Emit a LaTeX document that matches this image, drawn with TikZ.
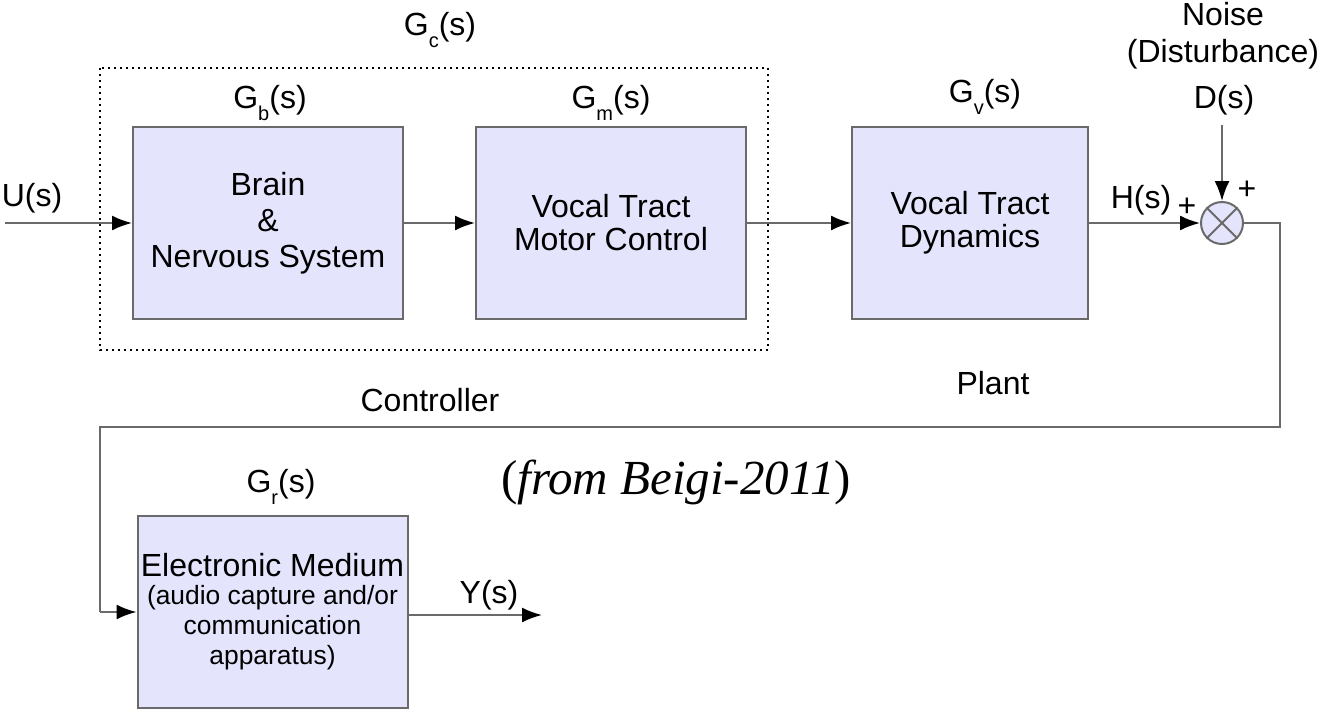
\documentclass[tikz,border=0pt]{standalone}
\usepackage{fontspec}
\setmainfont{Liberation Sans}
\newfontfamily\citefont{Liberation Serif}
\usetikzlibrary{arrows.meta}
\definecolor{boxfill}{HTML}{E4E4FC}
\definecolor{edge}{HTML}{6A6A6A}
% transfer function label G_x(s) with a low-set subscript
\newcommand{\tf}[1]{G\raisebox{-6pt}{\fontsize{10}{11}\selectfont #1}(s)}
\begin{document}
\begin{tikzpicture}[x=0.5pt,y=-0.5pt,
  block/.style={draw=edge,fill=boxfill,line width=1pt,minimum width=135pt,
    minimum height=96pt,align=center,font=\fontsize{16}{16.5}\selectfont,inner sep=0pt},
  lbl/.style={font=\fontsize{16}{18.5}\selectfont,inner sep=0pt,align=center},
  tfl/.style={lbl,anchor=base},
  wire/.style={draw=edge,line width=1pt},
  flow/.style={wire,-{Latex[length=10pt,width=7.5pt,color=black]}},
  junction/.style={circle,draw=edge,fill=boxfill,line width=1pt,minimum size=21pt,inner sep=0pt}]
\useasboundingbox (0,0) rectangle (1322,712);
% controller grouping
\draw[black,line width=1pt,dotted] (100,68) rectangle (768,350);
\node[tfl] (gc) at (440,35) {\tf{c}};
\node[lbl] (ctl) at (430,400) {Controller};
% forward path blocks
\node[block,font=\fontsize{16}{18}\selectfont] (brain) at (268,223) {Brain\\\&\\Nervous System};
\node[block] (motor) at (611,223) {Vocal Tract\\Motor Control};
\node[block,minimum width=118pt] (plant) at (970,223) {Vocal Tract\\Dynamics};
\node[block,font=\fontsize{16}{15}\selectfont] (medium) at (272.5,611.5)
  {Electronic Medium\\[-1pt]{\fontsize{13.2}{15}\selectfont(audio capture and/or}\\
   {\fontsize{13.2}{15}\selectfont communication}\\{\fontsize{13.2}{15}\selectfont apparatus)}};
\node[tfl] (gb) at (270,108) {\tf{b}};
\node[tfl] (gm) at (611,108) {\tf{m}};
\node[tfl] (gv) at (985,102) {\tf{v}};
\node[tfl] (gr) at (281,492) {\tf{r}};
\node[lbl] (plt) at (993,383) {Plant};
% summing junction and disturbance
\node[junction] (sum) at (1222,223) {};
\draw[edge,line width=1pt] (sum.45) -- (sum.225) (sum.135) -- (sum.315);
\node[lbl] (noise) at (1223,36) {Noise\\(Disturbance)};
\node[lbl] (ds) at (1224,100) {D(s)};
\coordinate (dtop) at (1222,125);
\node[lbl] (pl1) at (1187,207) {+};
\node[lbl] (pl2) at (1247,190) {+};
% signals
\coordinate (uin) at (5,223);
\node[lbl] (us) at (32,198) {U(s)};
\node[lbl] (hs) at (1141,200) {H(s)};
\coordinate (c1) at (1280,223);
\coordinate (c2) at (1280,427);
\coordinate (c3) at (100,427);
\coordinate (c4) at (100,612);
\coordinate (yout) at (542,615);
\node[lbl] (ys) at (489,595) {Y(s)};
\draw[flow] (uin) -- (brain.west);
\draw[flow] (brain) -- (motor);
\draw[flow] (motor) -- (plant);
\draw[flow] (plant.east) -- (sum.west);
\draw[flow] (dtop) -- (sum.north);
\draw[wire] (sum.east) -- (c1) -- (c2) -- (c3) -- (c4);
\draw[flow] (c4) -- (c4 -| medium.west);
\draw[flow] (medium.east |- yout) -- (yout);
% citation
\node[inner sep=0pt,font=\citefont\fontsize{24.5}{28}\selectfont] (cite) at (676,482) {(\textit{from Beigi-2011})};
\end{tikzpicture}
\end{document}
